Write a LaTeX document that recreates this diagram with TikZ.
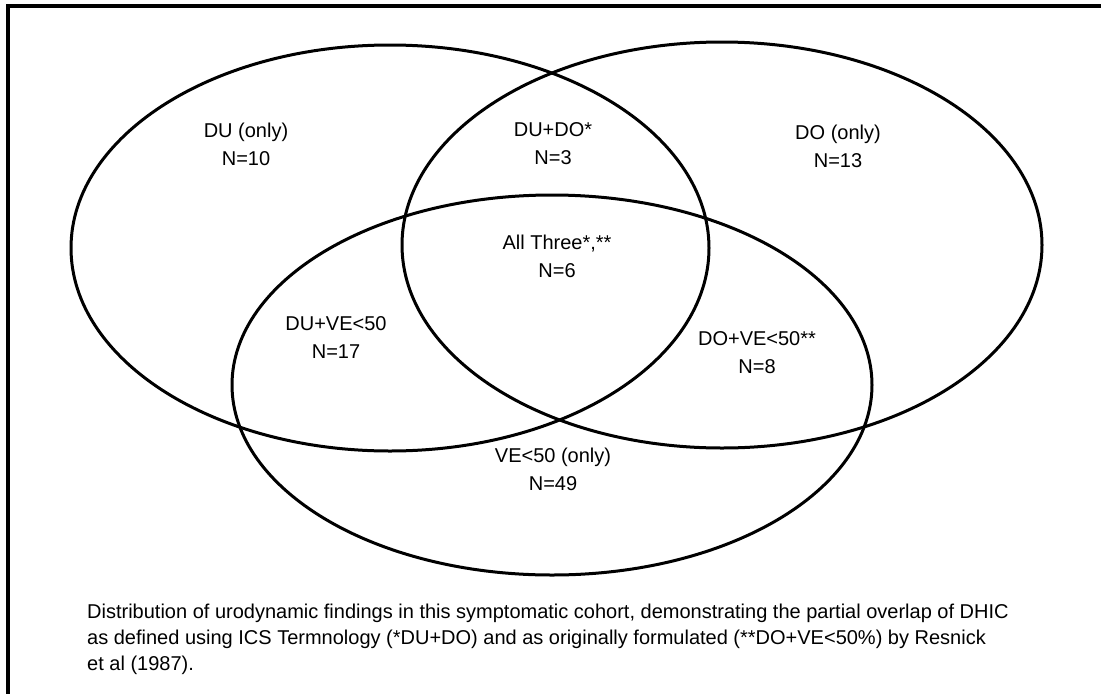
\documentclass[tikz,border=0pt]{standalone}
\usepackage{fontspec}
\setmainfont{Liberation Sans}
\begin{document}
\begin{tikzpicture}[x=1pt,y=-1pt,
  venn/.style={draw=black,line width=3pt},
  lbl/.style={align=center,font=\fontsize{20}{28}\selectfont,inner sep=0pt},
  capline/.style={anchor=base west,inner sep=0pt,font=\fontsize{20}{26}\selectfont},
  frame/.style={line width=4pt}]
\useasboundingbox (0,0) rectangle (1101,694);
\draw[frame] (6,6) -- (1101,6);
\draw[frame] (8,4) -- (8,694);
\draw[venn] (390,248) ellipse [x radius=319, y radius=203];
\draw[venn] (722,245) ellipse [x radius=320, y radius=203];
\draw[venn] (552,385) ellipse [x radius=320, y radius=190];
\node[lbl] (du) at (246,144) {DU (only)\\N=10};
\node[lbl] (dudo) at (553,144) {DU+DO*\\N=3};
\node[lbl] (do) at (838,146) {DO (only)\\N=13};
\node[lbl] (all) at (557,256) {All Three*,**\\N=6};
\node[lbl] (duve) at (336,338) {DU+VE<50\\N=17};
\node[lbl] (dove) at (757,353) {DO+VE<50**\\N=8};
\node[lbl] (ve) at (553,469) {VE<50 (only)\\N=49};
\node[capline] (cap1) at (87,618) {Distribution of urodynamic findings in this symptomatic cohort, demonstrating the partial overlap of DHIC};
\node[capline] (cap2) at (87,644) {as defined using ICS Termnology (*DU+DO) and as originally formulated (**DO+VE<50\%) by Resnick};
\node[capline] (cap3) at (87,670) {et al (1987).};
\end{tikzpicture}
\end{document}
